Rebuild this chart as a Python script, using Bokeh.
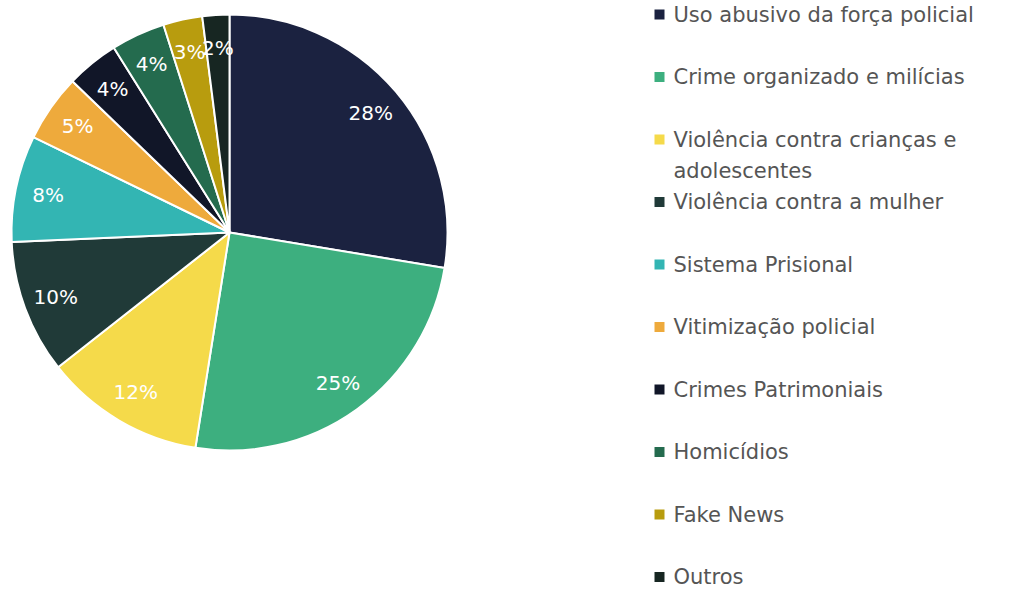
import math
from bokeh.plotting import figure
from bokeh.models import Range1d, ColumnDataSource
from bokeh.core.properties import value
from bokeh.embed import file_html
from bokeh.resources import INLINE

categories = ["Uso abusivo da força policial", "Crime organizado e milícias",
              "Violência contra crianças e\nadolescentes", "Violência contra a mulher",
              "Sistema Prisional", "Vitimização policial", "Crimes Patrimoniais",
              "Homicídios", "Fake News", "Outros"]
values = [27.6, 24.9, 11.9, 9.9, 7.9, 5.0, 3.9, 4.0, 2.9, 2.0]
labels = ["28%", "25%", "12%", "10%", "8%", "5%", "4%", "4%", "3%", "2%"]
colors = ["#1b2240", "#3daf7f", "#f5da4a", "#203a38", "#33b5b3",
          "#eeaa3c", "#111628", "#246b4e", "#b89c0e", "#172622"]

W, H = 1009, 591
p = figure(width=W, height=H, output_backend="svg", toolbar_location=None,
           x_range=Range1d(0, W), y_range=Range1d(0, H), min_border=0)
p.axis.visible = False
p.grid.visible = False
p.outline_line_color = None
p.background_fill_color = "white"

cx, cy, r = 229, H - 232, 218
total = sum(values)
starts, ends, lx, ly = [], [], [], []
cum = 0.0
for v in values:
    a0 = math.pi / 2 - cum / total * 2 * math.pi
    cum += v
    a1 = math.pi / 2 - cum / total * 2 * math.pi
    starts.append(a0)
    ends.append(a1)
    mid = (a0 + a1) / 2
    lx.append(cx + 0.85 * r * math.cos(mid))
    ly.append(cy + 0.85 * r * math.sin(mid))

src = ColumnDataSource(dict(x=[cx] * len(values), y=[cy] * len(values), s=starts, e=ends,
                            c=colors, lx=lx, ly=ly, t=labels))
p.wedge(x="x", y="y", radius=r, start_angle="s", end_angle="e", direction="clock",
        fill_color="c", line_color="white", line_width=2, source=src)
p.text(x="lx", y="ly", text="t", source=src, text_color="white",
       text_font=value("DejaVu Sans"), text_font_size="20px", text_align="center",
       text_baseline="middle")

# legend
leg_x, leg_y0, step, line_h = 659, H - 14, 62.5, 31
ly_items = [leg_y0 - step * i for i in range(len(categories))]
p.rect(x=[leg_x] * len(categories), y=ly_items, width=10, height=10,
       fill_color=colors, line_color=None)
tx, ty, tt = [], [], []
for y, cat in zip(ly_items, categories):
    for k, line in enumerate(cat.split("\n")):
        tx.append(leg_x + 14)
        ty.append(y - k * line_h)
        tt.append(line)
p.text(x=tx, y=ty, text=tt,
       text_color="#555555", text_font=value("DejaVu Sans"), text_font_size="21px",
       text_align="left", text_baseline="middle")

open("out.html", "w").write(file_html(p, INLINE))
